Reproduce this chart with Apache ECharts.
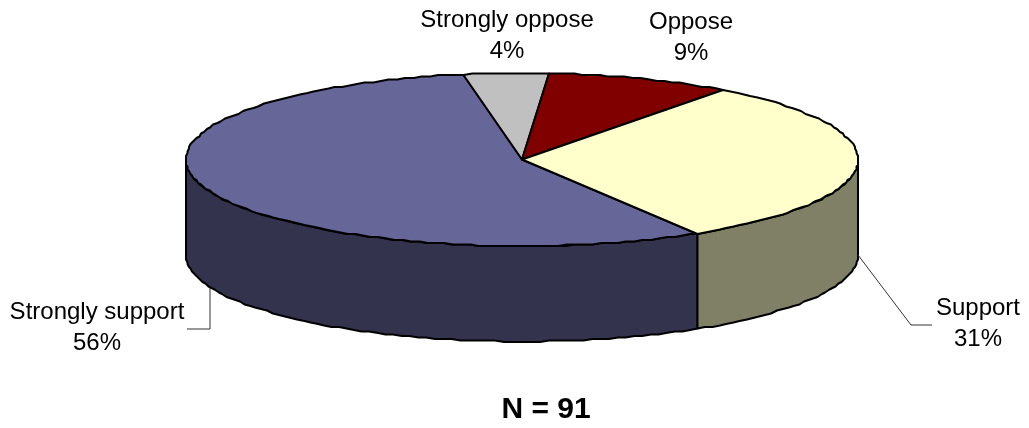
<!DOCTYPE html>
<html>
<head>
<meta charset="utf-8">
<style>html,body{margin:0;padding:0;background:#fff}#chart{width:1029px;height:428px}</style>
<script src="https://cdn.jsdelivr.net/npm/echarts@6/dist/echarts.min.js"></script>
</head>
<body>
<div id="chart"></div>
<script>
// Survey responses, in drawing order clockwise from the start angle
const categories = ['Strongly support', 'Strongly oppose', 'Oppose', 'Support'];
const percents = [56, 4, 9, 31];
const respondents = 91;

const topColors = ['#666699', '#C0C0C0', '#800000', '#FFFFCC'];
const wallColors = ['#33334D', '#606060', '#400000', '#808066'];

// Label placement, one entry per category
const labelCenters = [[97, 328], [507, 36], [691, 38], [978, 324]];
// Leader lines: bend points after the rim anchor, and the rim angle they leave from
const leaders = [
  { rim: 248, points: [[210, 329], [187, 329]] },
  null,
  null,
  { rim: 90, points: [[911, 325], [932, 325]] }
];

// Tilted disc geometry
const cx = 522, cy = 159.5, rx = 336, ry = 86.5, depth = 95.5;
const startAngle = 148.5;
const STEP = 1.5, GRID = 1.5;

const snap = v => Math.round(v / GRID) * GRID;
// Angle is clockwise from 12 o'clock, in degrees
const rimPoint = (deg, dy) => {
  const t = deg * Math.PI / 180;
  return [snap(cx + rx * Math.sin(t)), snap(cy - ry * Math.cos(t) + dy)];
};
const arc = (from, to, dy) => {
  const pts = [];
  const n = Math.max(1, Math.ceil((to - from) / STEP));
  for (let i = 0; i <= n; i++) pts.push(rimPoint(from + (to - from) * i / n, dy));
  return pts;
};

const total = percents.reduce((a, b) => a + b, 0);
const spans = [];
percents.reduce((acc, v) => {
  const end = acc + v / total * 360;
  spans.push([acc, end]);
  return end;
}, startAngle);

const outline = { stroke: '#000', lineWidth: 2, lineJoin: 'round' };

// Visible front of the disc lies between 90 and 270 degrees
function frontRanges(from, to) {
  const out = [];
  for (const shift of [0, 360]) {
    const a = Math.max(from, 90 + shift), b = Math.min(to, 270 + shift);
    if (b > a) out.push([a, b]);
  }
  return out;
}

function renderWall(params) {
  const i = params.dataIndex;
  const [from, to] = spans[i];
  const children = frontRanges(from, to).map(([a, b]) => ({
    type: 'polygon',
    shape: { points: arc(a, b, 0).concat(arc(a, b, depth).reverse()) },
    style: Object.assign({ fill: wallColors[i] }, outline)
  }));
  return { type: 'group', children };
}

function renderTop(params, api) {
  const i = params.dataIndex;
  const [from, to] = spans[i];
  const children = [{
    type: 'polygon',
    shape: { points: [[cx, cy]].concat(arc(from, to, 0)) },
    style: Object.assign({ fill: topColors[i] }, outline)
  }];
  const leader = leaders[i];
  if (leader) {
    children.push({
      type: 'polyline',
      shape: { points: [rimPoint(leader.rim, depth)].concat(leader.points) },
      style: { stroke: '#333', lineWidth: 1, fill: null }
    });
  }
  const [lx, ly] = labelCenters[i];
  children.push({
    type: 'text',
    x: lx, y: ly,
    style: {
      text: categories[i] + '\n' + api.value(0) + '%',
      fill: '#000',
      font: '24px "Liberation Sans", Arial, sans-serif',
      lineHeight: 31,
      align: 'center',
      verticalAlign: 'middle'
    }
  });
  return { type: 'group', children };
}

const chart = echarts.init(document.getElementById('chart'), null, { renderer: 'canvas' });
chart.setOption({
  animation: false,
  backgroundColor: '#fff',
  title: {
    text: 'N = ' + respondents,
    left: 541, top: 390,
    textAlign: 'center',
    textStyle: { fontFamily: '"Liberation Sans", Arial, sans-serif', fontWeight: 'bold', fontSize: 30, color: '#000' }
  },
  series: [
    { type: 'custom', coordinateSystem: 'none', renderItem: renderWall, data: percents, z: 1, silent: true },
    { type: 'custom', coordinateSystem: 'none', renderItem: renderTop, data: percents, z: 2, silent: true }
  ]
});
</script>
</body>
</html>
